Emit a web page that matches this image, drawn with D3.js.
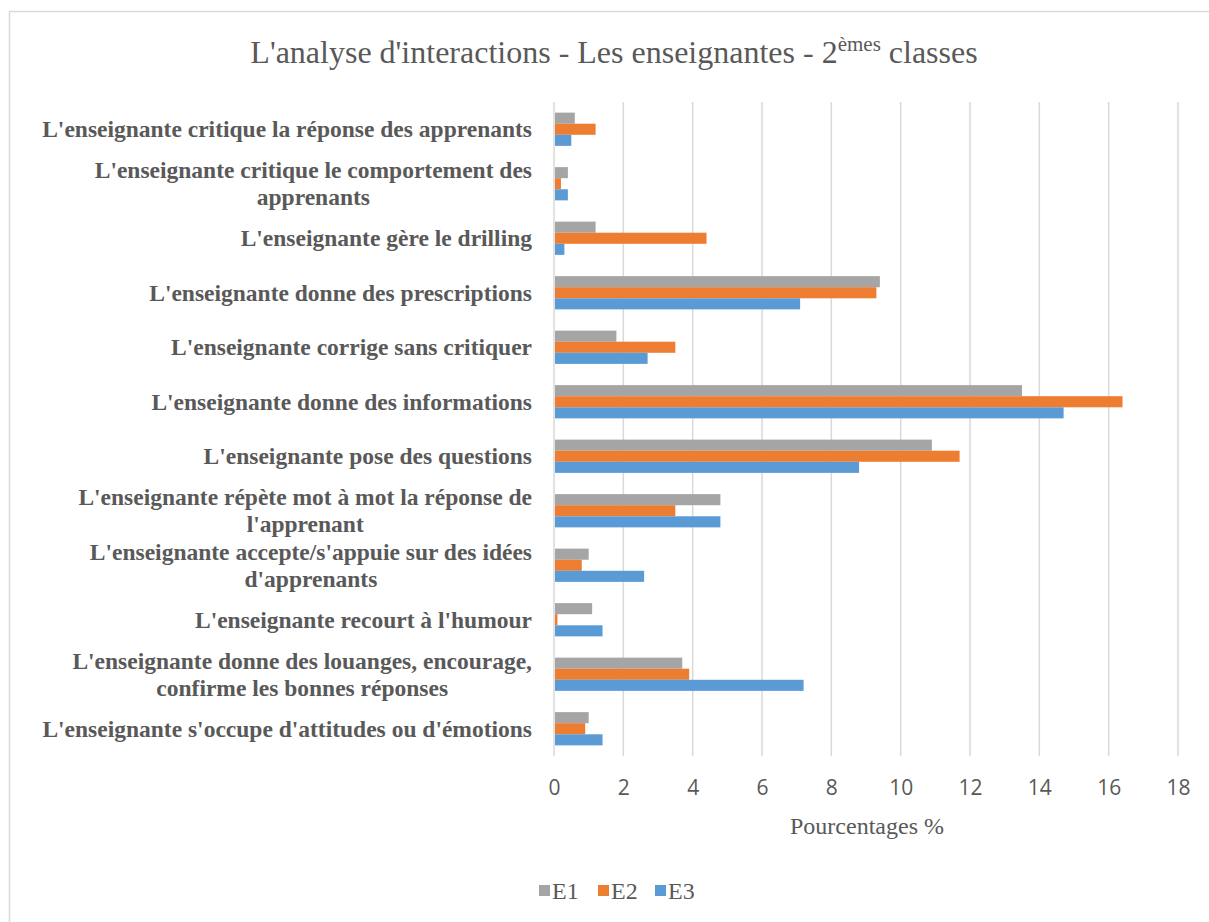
<!DOCTYPE html>
<html>
<head>
<meta charset="utf-8">
<script src="https://cdn.jsdelivr.net/npm/d3@7"></script>
<style>
  body { margin: 0; background: #fff; }
  svg { display: block; }
</style>
</head>
<body>
<div id="chart"></div>
<script>
// categories, top to bottom ("\n" = line break in the label)
var categories = [
    "L'enseignante critique la réponse des apprenants",
    "L'enseignante critique le comportement des\napprenants",
    "L'enseignante gère le drilling",
    "L'enseignante donne des prescriptions",
    "L'enseignante corrige sans critiquer",
    "L'enseignante donne des informations",
    "L'enseignante pose des questions",
    "L'enseignante répète mot à mot la réponse de\nl'apprenant",
    "L'enseignante accepte/s'appuie sur des idées\nd'apprenants",
    "L'enseignante recourt à l'humour",
    "L'enseignante donne des louanges, encourage,\nconfirme les bonnes réponses",
    "L'enseignante s'occupe d'attitudes ou d'émotions"
];
var seriesNames = ["E1", "E2", "E3"];
var e1 = [0.6, 0.4, 1.2, 9.4, 1.8, 13.5, 10.9, 4.8, 1.0, 1.1, 3.7, 1.0];
var e2 = [1.2, 0.2, 4.4, 9.3, 3.5, 16.4, 11.7, 3.5, 0.8, 0.1, 3.9, 0.9];
var e3 = [0.5, 0.4, 0.3, 7.1, 2.7, 14.7, 8.8, 4.8, 2.6, 1.4, 7.2, 1.4];
var xTicks = [0, 2, 4, 6, 8, 10, 12, 14, 16, 18];
var colors = ["#A5A5A5", "#ED7D31", "#5B9BD5"];

var W = 1209, H = 922;
var margin = { top: 102, right: 31, bottom: 166, left: 554 };
var width = W - margin.left - margin.right,
    height = H - margin.top - margin.bottom;

var seriesValues = [e1, e2, e3];
var data = categories.map(function (c, i) {
    return { cat: c, vals: seriesNames.map(function (s, j) { return { key: s, value: seriesValues[j][i] }; }) };
});

var svg = d3.select("#chart").append("svg")
    .attr("width", W)
    .attr("height", H);

// chart frame
svg.append("rect")
    .attr("x", 9.5).attr("y", 11.5)
    .attr("width", 1300).attr("height", 1000)
    .style("fill", "none")
    .style("stroke", "#d9d9d9")
    .style("stroke-width", "1.5px");

var g = svg.append("g")
    .attr("transform", "translate(" + margin.left + "," + margin.top + ")");

var x = d3.scaleLinear().domain([0, 18]).range([0, width]);
var y = d3.scaleBand().domain(categories).range([0, height])
    .paddingInner(0.39).paddingOuter(0.195);
var ySub = d3.scaleBand().domain(seriesNames).range([0, y.bandwidth()]);

// grid lines
g.append("g")
    .selectAll("line")
    .data(xTicks)
    .join("line")
    .attr("x1", function (d) { return x(d); })
    .attr("x2", function (d) { return x(d); })
    .attr("y1", 0)
    .attr("y2", height)
    .style("stroke", "#d9d9d9")
    .style("stroke-width", "1.5px");

// bars
var groups = g.append("g")
    .selectAll("g")
    .data(data)
    .join("g")
    .attr("transform", function (d) { return "translate(0," + y(d.cat) + ")"; });

groups.selectAll("rect")
    .data(function (d) { return d.vals; })
    .join("rect")
    .attr("x", x(0) + 1)
    .attr("y", function (d) { return ySub(d.key); })
    .attr("width", function (d) { return Math.max(0, x(d.value) - x(0) - 1); })
    .attr("height", ySub.bandwidth())
    .style("fill", function (d, i) { return colors[i]; });

// x axis
var xAxis = d3.axisBottom(x).tickValues(xTicks).tickSize(0).tickPadding(24);
var ax = g.append("g")
    .attr("class", "x axis")
    .attr("transform", "translate(0," + height + ")")
    .call(xAxis);
ax.select(".domain").remove();
ax.selectAll("text")
    .style("font-family", "'Open Sans', sans-serif")
    .style("font-size", "21px")
    .style("fill", "#595959");

// category labels
var labelRight = 532;
var labels = svg.append("g")
    .selectAll("text")
    .data(categories)
    .join("text")
    .style("font-family", "'Liberation Serif', 'Times New Roman', serif")
    .style("font-weight", "bold")
    .style("font-size", "23.5px")
    .style("fill", "#595959")
    .attr("text-anchor", "middle");

labels.each(function (d) {
    var t = d3.select(this);
    var lines = d.split("\n");
    var cy = margin.top + y(d) + y.bandwidth() / 2;
    var lh = 27;
    var spans = lines.map(function (l, i) {
        return t.append("tspan")
            .attr("y", cy + (i - (lines.length - 1) / 2) * lh)
            .attr("dy", "0.35em")
            .text(l);
    });
    var maxW = d3.max(spans, function (s) { return s.node().getComputedTextLength(); });
    spans.forEach(function (s) { s.attr("x", labelRight - maxW / 2); });
});

// title
var title = svg.append("text")
    .attr("x", 614)
    .attr("y", 63)
    .attr("text-anchor", "middle")
    .style("font-family", "'Liberation Serif', 'Times New Roman', serif")
    .style("font-size", "32px")
    .style("fill", "#595959");
title.append("tspan").text("L'analyse d'interactions - Les enseignantes - 2");
title.append("tspan").attr("dy", -12).style("font-size", "21px").text("èmes");
title.append("tspan").attr("dy", 12).text(" classes");

// axis title
svg.append("text")
    .attr("x", 867)
    .attr("y", 834)
    .attr("text-anchor", "middle")
    .style("font-family", "'Liberation Serif', 'Times New Roman', serif")
    .style("font-size", "24px")
    .style("fill", "#595959")
    .text("Pourcentages %");

// legend
var legendX = [539, 598, 655];
var legend = svg.append("g")
    .selectAll("g")
    .data(seriesNames)
    .join("g")
    .attr("transform", function (d, i) { return "translate(" + legendX[i] + ",885)"; });
legend.append("rect")
    .attr("width", 11)
    .attr("height", 11)
    .style("fill", function (d, i) { return colors[i]; });
legend.append("text")
    .attr("x", 13)
    .attr("y", 14)
    .style("font-family", "'Liberation Serif', 'Times New Roman', serif")
    .style("font-size", "24px")
    .style("fill", "#595959")
    .text(function (d) { return d; });
</script>
</body>
</html>
